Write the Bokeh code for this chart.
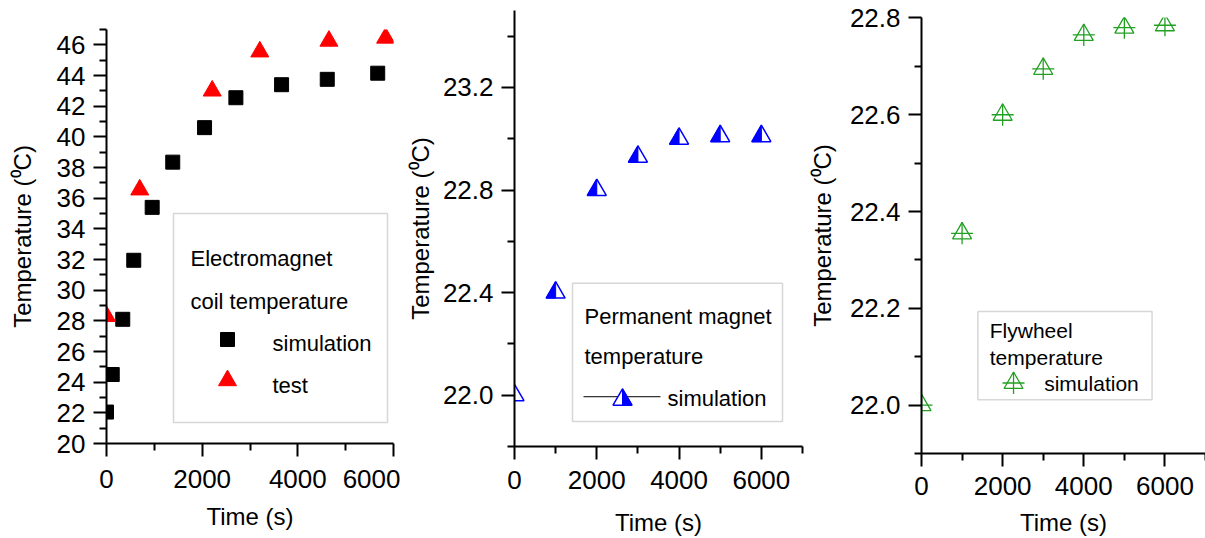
import math
from bokeh.plotting import figure
from bokeh.layouts import row
from bokeh.models import (Range1d, FixedTicker, PrintfTickFormatter, BasicTickFormatter,
                          Label, BoxAnnotation)
from bokeh.embed import file_html
from bokeh.resources import INLINE

FONT = "Liberation Sans"

# ---------------- data ----------------
coil_sim_time = [0, 120, 340, 570, 955, 1385, 2050, 2705, 3660, 4615, 5670]
coil_sim_temp = [22.05, 24.5, 28.1, 31.95, 35.4, 38.35, 40.6, 42.55, 43.4, 43.75, 44.15]
coil_test_time = [0, 695, 2210, 3205, 4650, 5835]
coil_test_temp = [28.3, 36.55, 43.0, 45.55, 46.25, 46.45]

pm_time = [0, 1000, 2000, 3000, 4000, 5000, 6000]
pm_temp = [22.0, 22.4, 22.8, 22.93, 23.0, 23.01, 23.01]

fw_time = [0, 1000, 2000, 3000, 4000, 5000, 6000]
fw_temp = [22.0, 22.355, 22.6, 22.695, 22.765, 22.78, 22.785]

# tick positions
coil_x_major = [0, 2000, 4000, 6000]
coil_x_minor = [1000, 3000, 5000]
coil_y_major = [20, 22, 24, 26, 28, 30, 32, 34, 36, 38, 40, 42, 44, 46]
coil_y_minor = [21, 23, 25, 27, 29, 31, 33, 35, 37, 39, 41, 43, 45, 47]
t_major = [0, 2000, 4000, 6000]
t_minor = [1000, 3000, 5000, 7000]
pm_y_major = [22.0, 22.4, 22.8, 23.2]
pm_y_minor = [21.8, 22.2, 22.6, 23.0, 23.4]
fw_y_major = [22.0, 22.2, 22.4, 22.6, 22.8]
fw_y_minor = [21.9, 22.1, 22.3, 22.5, 22.7]

y_label = "Temperature (\u2070C)"
x_label = "Time (s)"

# ---------------- layout (window pixels) ----------------
H = 538
P1 = dict(fx=0, w=400, L=106, R=393, T=29, B=443, xr=(0, 6000), yr=(20, 47))
P2 = dict(fx=400, w=405, L=514, R=802, T=10, B=448, xr=(0, 7000), yr=(21.8, 23.5))
P3 = dict(fx=805, w=400, L=918, R=1205, T=17, B=456, xr=(0, 7000), yr=(21.9, 22.801))


def X(P, px):
    x0, x1 = P["xr"]
    return x0 + (px - P["L"]) * (x1 - x0) / (P["R"] - P["L"])


def Y(P, py):
    y0, y1 = P["yr"]
    return y1 - (py - P["T"]) * (y1 - y0) / (P["B"] - P["T"])


def per_px(P):
    x0, x1 = P["xr"]
    y0, y1 = P["yr"]
    return (x1 - x0) / (P["R"] - P["L"]), (y1 - y0) / (P["B"] - P["T"])


def make_fig(P, xmaj, xmin, ymaj, ymin, yfmt, tick_std_x, lab_std_x, lab_std_y):
    p = figure(width=P["w"], height=H,
               x_range=Range1d(*P["xr"]), y_range=Range1d(*P["yr"]),
               output_backend="svg", toolbar_location=None,
               min_border_left=P["L"] - P["fx"],
               min_border_right=P["fx"] + P["w"] - P["R"],
               min_border_top=P["T"], min_border_bottom=H - P["B"])
    if "frame_align" in p.properties():
        p.frame_align = False
    p.outline_line_color = None
    p.grid.visible = False
    p.background_fill_color = "white"
    p.border_fill_color = "white"
    p.xaxis.ticker = FixedTicker(ticks=xmaj, minor_ticks=xmin)
    p.yaxis.ticker = FixedTicker(ticks=ymaj, minor_ticks=ymin)
    p.xaxis.formatter = BasicTickFormatter(use_scientific=False)
    p.yaxis.formatter = yfmt
    for ax in (p.xaxis, p.yaxis):
        ax.axis_line_width = 2
        ax.axis_line_color = "black"
        ax.major_tick_line_width = 2
        ax.minor_tick_line_width = 2
        ax.major_tick_line_color = "black"
        ax.minor_tick_line_color = "black"
        ax.major_tick_in = 0
        ax.minor_tick_in = 0
        ax.major_tick_out = 13
        ax.minor_tick_out = 7
        ax.major_label_text_font = FONT
        ax.major_label_text_font_size = "26px"
        ax.major_label_text_color = "black"
        ax.axis_label_text_font = FONT
        ax.axis_label_text_font_size = "24px"
        ax.axis_label_text_font_style = "normal"
        ax.axis_label_text_color = "black"
    p.xaxis.major_label_standoff = tick_std_x
    p.yaxis.major_label_standoff = 8
    p.xaxis.axis_label = x_label
    p.yaxis.axis_label = y_label
    p.xaxis.axis_label_standoff = lab_std_x
    p.yaxis.axis_label_standoff = lab_std_y
    return p


def label(p, P, px, py, text, size="22px"):
    p.add_layout(Label(x=X(P, px), y=Y(P, py), text=text, text_font=FONT,
                       text_font_size=size, text_baseline="middle",
                       text_align="left", text_color="black"))


def legend_box(p, P, l, r, t, b):
    p.add_layout(BoxAnnotation(left=X(P, l), right=X(P, r), top=Y(P, t), bottom=Y(P, b),
                               fill_alpha=0, line_color="#7a7a7a", line_width=1.5))


# ---------------- panel 1: electromagnet coil ----------------
p1 = make_fig(P1, coil_x_major, coil_x_minor, coil_y_major, coil_y_minor,
              BasicTickFormatter(use_scientific=False), 13, 12, 18)
p1.scatter(coil_sim_time, coil_sim_temp, marker="square", size=14,
           fill_color="black", line_color="black")
p1.scatter(coil_test_time, coil_test_temp, marker="triangle", size=18,
           fill_color="red", line_color="red")
legend_box(p1, P1, 173, 387, 213, 422)
label(p1, P1, 190, 258, "Electromagnet")
label(p1, P1, 190, 301, "coil temperature")
p1.scatter([X(P1, 227)], [Y(P1, 339)], marker="square", size=14,
           fill_color="black", line_color="black")
label(p1, P1, 272, 343, "simulation")
p1.scatter([X(P1, 227)], [Y(P1, 380)], marker="triangle", size=18,
           fill_color="red", line_color="red")
label(p1, P1, 272, 385, "test")

# ---------------- panel 2: permanent magnet ----------------
BLUE = "#0000ff"
p2 = make_fig(P2, t_major, t_minor, pm_y_major, pm_y_minor,
              PrintfTickFormatter(format="%.1f"), 11, 17, 6)

TRI = 19.0
TRI_H = TRI * math.sqrt(3) / 2


def half_triangles(p, P, xs, ys, left_filled=True):
    ux, uy = per_px(P)
    dx = TRI / 2 * ux
    db = TRI_H / 3 * uy
    da = 2 * TRI_H / 3 * uy
    full_x = [[x - dx, x + dx, x] for x in xs]
    full_y = [[y - db, y - db, y + da] for y in ys]
    if left_filled:
        half_x = [[x - dx, x, x] for x in xs]
    else:
        half_x = [[x, x + dx, x] for x in xs]
    half_y = [[y - db, y - db, y + da] for y in ys]
    p.patches(full_x, full_y, fill_color="white", line_color=BLUE, line_width=1.5)
    p.patches(half_x, half_y, fill_color=BLUE, line_color=BLUE, line_width=1)


half_triangles(p2, P2, pm_time, pm_temp, left_filled=True)
legend_box(p2, P2, 572, 782, 284, 423)
label(p2, P2, 584, 317, "Permanent magnet")
label(p2, P2, 584, 358, "temperature")
p2.line([X(P2, 583), X(P2, 660)], [Y(P2, 398), Y(P2, 398)], line_color="black", line_width=1)
half_triangles(p2, P2, [X(P2, 622)], [Y(P2, 401)], left_filled=False)
label(p2, P2, 667, 400, "simulation")

# ---------------- panel 3: flywheel ----------------
GREEN = "#22a022"
p3 = make_fig(P3, t_major, t_minor, fw_y_major, fw_y_minor,
              PrintfTickFormatter(format="%.1f"), 10, 11, 11)
p3.scatter(fw_time, fw_temp, marker="triangle", size=19, fill_color=None,
           line_color=GREEN, line_width=1.3)
p3.scatter(fw_time, fw_temp, marker="cross", size=22, line_color=GREEN, line_width=1.3)
legend_box(p3, P3, 975, 1151, 313, 402)
label(p3, P3, 987, 332, "Flywheel", "21px")
label(p3, P3, 987, 359, "temperature", "21px")
p3.scatter([X(P3, 1011)], [Y(P3, 385)], marker="triangle", size=19, fill_color=None,
           line_color=GREEN, line_width=1.3)
p3.scatter([X(P3, 1011)], [Y(P3, 385)], marker="cross", size=22, line_color=GREEN,
           line_width=1.3)
label(p3, P3, 1042, 386, "simulation", "21px")

layout = row(p1, p2, p3)
open("out.html", "w").write(file_html(layout, INLINE))
